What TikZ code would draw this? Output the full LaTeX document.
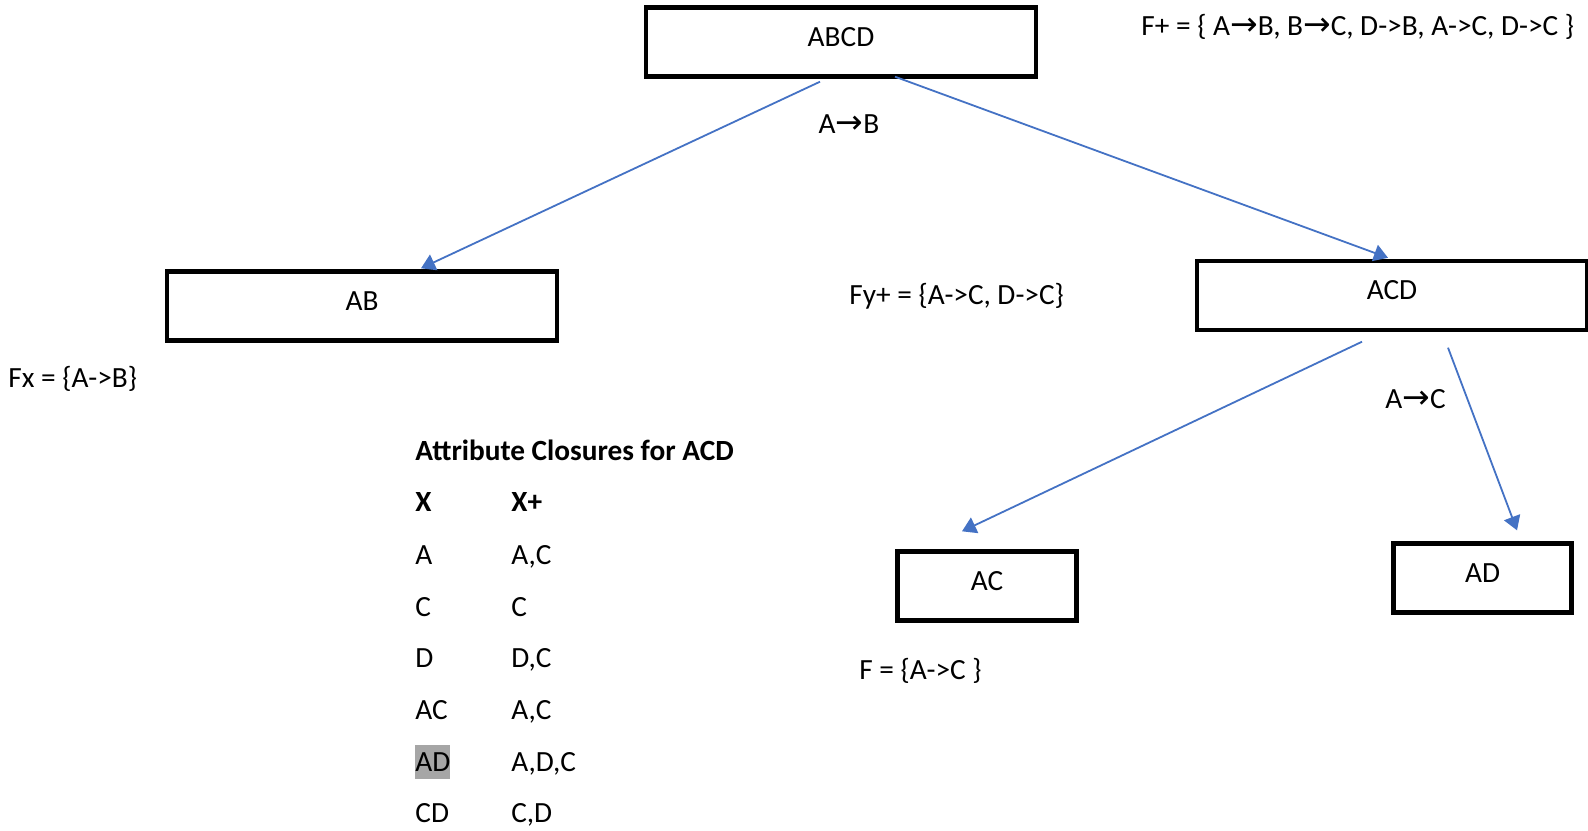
\documentclass[tikz,border=0pt]{standalone}
\usepackage{fontspec}
\setmainfont{Carlito}
\newfontfamily\arrowfont{DejaVu Sans}
\usetikzlibrary{arrows.meta}
\definecolor{linkblue}{HTML}{4472C4}
\definecolor{hlgray}{HTML}{A6A6A6}
\newcommand\rarr{{\fontsize{16.5}{17}\arrowfont\symbol{"2192}}}
\begin{document}
\begin{tikzpicture}[x=0.5pt,y=-0.5pt,
  font=\fontsize{14.65}{17}\selectfont,
  box/.style={draw=black, line width=2.2pt, minimum height=34.5pt,
              text height=9.4pt, text depth=5pt, inner sep=0pt},
  link/.style={draw=linkblue, line width=0.9pt,
               -{Triangle[length=7pt,width=8.5pt]}},
  lbl/.style={anchor=base west, inner sep=0pt},
  clbl/.style={anchor=base, inner sep=0pt},
  bold/.style={font=\fontsize{14.65}{17}\selectfont\bfseries},
  hl/.style={anchor=base west, inner sep=0pt, fill=hlgray,
             text height=13pt, text depth=4pt}]
\useasboundingbox (0,0) rectangle (1588,830);

% boxes
\node[box, minimum width=195pt] (abcd) at (841,42) {ABCD};
\node[box, minimum width=195pt] (ab) at (362,306) {AB};
\node[box, minimum width=195pt] (acd) at (1392,295.5) {ACD};
\node[box, minimum width=89.5pt] (ac) at (987,586) {AC};
\node[box, minimum width=89pt] (ad) at (1482.5,578) {AD};

% connectors
\draw[link] ([xshift=-10.5pt,yshift=-1.5pt]abcd.south) -- ([xshift=29.5pt,yshift=0.5pt]ab.north);
\draw[link] ([xshift=27pt,yshift=1pt]abcd.south) -- ([xshift=-2pt,yshift=0.5pt]acd.north);
\draw[link] ([xshift=-15pt,yshift=-4.75pt]acd.south) -- ([xshift=-12.5pt,yshift=9pt]ac.north);
\draw[link] ([xshift=28pt,yshift=-7.75pt]acd.south) -- ([xshift=17.25pt,yshift=5.5pt]ad.north);

% labels
\node[lbl] (fplus) at (1141,35) {F+ = \{ A\rarr B, B\rarr C, D->B, A->C, D->C \}};
\node[clbl] (lab1) at (849,133) {A\rarr B};
\node[lbl] (fy) at (849,304) {Fy+ = \{A->C, D->C\}};
\node[lbl] (fx) at (8,387) {Fx = \{A->B\}};
\node[lbl] (lab2) at (1385,408) {A\rarr C};
\node[lbl] (ff) at (859,679) {F = \{A->C \}};

% table
\node[lbl, bold] (title) at (415,460) {Attribute Closures for ACD};
\node[lbl, bold] (hx) at (415,511) {X};
\node[lbl, bold] (hxp) at (511,511) {X+};
\node[lbl] (r1a) at (415,564) {A};    \node[lbl] (r1b) at (511,564) {A,C};
\node[lbl] (r2a) at (415,616) {C};    \node[lbl] (r2b) at (511,616) {C};
\node[lbl] (r3a) at (415,667) {D};    \node[lbl] (r3b) at (511,667) {D,C};
\node[lbl] (r4a) at (415,719) {AC};   \node[lbl] (r4b) at (511,719) {A,C};
\node[hl]  (r5a) at (415,771) {AD};   \node[lbl] (r5b) at (511,771) {A,D,C};
\node[lbl] (r6a) at (415,822) {CD};   \node[lbl] (r6b) at (511,822) {C,D};
\end{tikzpicture}
\end{document}
